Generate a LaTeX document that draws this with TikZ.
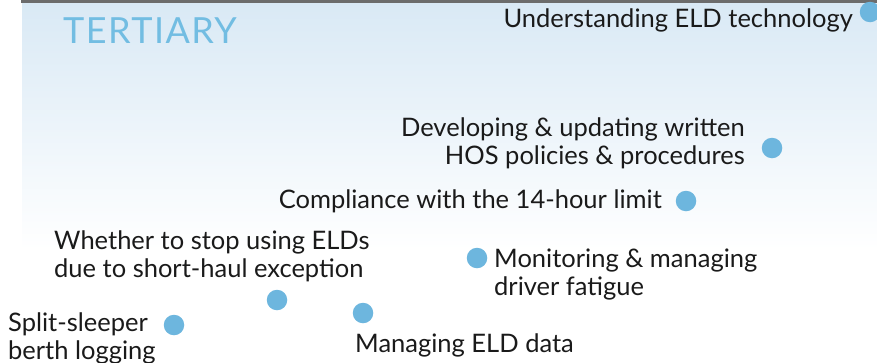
\documentclass[tikz,border=0pt]{standalone}
\usepackage{fontspec}
\setmainfont{Lato}
\begin{document}
\begin{tikzpicture}[x=1pt,y=-1pt,
  dot/.style={circle,fill=dotblue,inner sep=0pt,minimum size=20.5pt},
  lbl/.style={inner sep=0pt,font=\fontsize{25.5}{28}\selectfont,text=txt},
]
\definecolor{dotblue}{HTML}{6DB6DE}
\definecolor{txt}{HTML}{1A1A1A}
\definecolor{bgtop}{HTML}{D9E9F5}
\definecolor{ttl}{HTML}{72BDE2}
\useasboundingbox (0,0) rectangle (877,362);
\shade[top color=bgtop,bottom color=white] (22,2) rectangle (877,250);
\fill[gray!85!black] (21,0) rectangle (877,2.5);
\begin{scope}
\clip (0,0) rectangle (877,362);
\node[dot] (d1) at (870,12) {};
\end{scope}
\node[lbl,anchor=base west,text=ttl,font=\addfontfeature{LetterSpace=4}\fontsize{36}{36}\selectfont] (title) at (63,43) {TERTIARY};
\node[lbl,anchor=base east] (t1) at (853,27) {Understanding ELD technology};
\node[dot] (d2) at (772,148) {};
\node[lbl,anchor=base east,align=right] (t2) at (745,164) {Developing \& updating written\\HOS policies \& procedures};
\node[dot] (d3) at (686,201) {};
\node[lbl,anchor=base east] (t3) at (662,208) {Compliance with the 14-hour limit};
\node[dot] (d4) at (477,258) {};
\node[lbl,anchor=base west,align=left] (t4) at (494,295) {Monitoring \& managing\\driver fatigue};
\node[dot] (d5) at (277,300) {};
\node[lbl,anchor=base west,align=left] (t5) at (54,277) {Whether to stop using ELDs\\due to short-haul exception};
\node[dot] (d6) at (363,313) {};
\node[lbl,anchor=base west] (t6) at (355,352) {Managing ELD data};
\node[dot] (d7) at (174,325) {};
\node[lbl,anchor=base west,align=left] (t7) at (8,359) {Split-sleeper\\berth logging};
\end{tikzpicture}
\end{document}
